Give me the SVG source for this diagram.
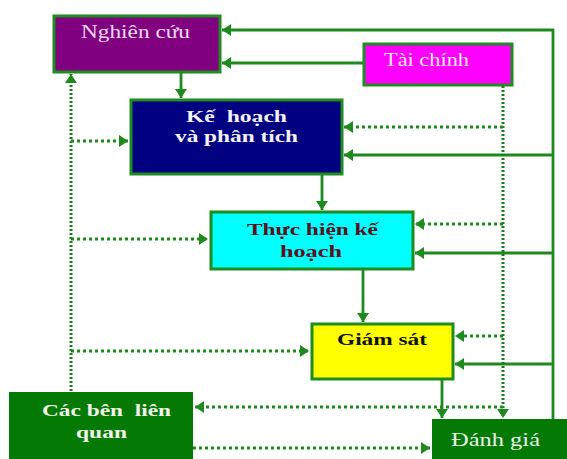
<svg xmlns="http://www.w3.org/2000/svg" width="567" height="459" viewBox="0 0 567 459">
<style>
.box{stroke:#1e8c1e;stroke-width:3}
.ln{fill:none;stroke:#1e8a1e;stroke-width:2.8}
.dv{fill:none;stroke:#1e7a1e;stroke-width:3;stroke-dasharray:2 2}
.dh{fill:none;stroke:#1e8a1e;stroke-width:3;stroke-dasharray:3 3}
.t{font-family:"Liberation Serif","Times New Roman",serif;font-size:18px;white-space:pre}
.b{font-weight:bold;font-size:17px}
</style>
<defs>
<marker id="ah" viewBox="0 0 9 12" refX="9" refY="6" markerWidth="9" markerHeight="12" markerUnits="userSpaceOnUse" orient="auto">
<path d="M0,0 L9,6 L0,12 z" fill="#1e8a1e"/>
</marker>
</defs>
<rect width="567" height="459" fill="#ffffff"/>
<g id="connectors">
<path class="ln" d="M181,73 V98" marker-end="url(#ah)"/>
<path class="ln" d="M322,175 V210" marker-end="url(#ah)"/>
<path class="ln" d="M363,270 V322" marker-end="url(#ah)"/>
<path class="ln" d="M442,380 V418" marker-end="url(#ah)"/>
<path class="ln" d="M553,419 V30 H222" marker-end="url(#ah)"/>
<path class="ln" d="M553,155 H344" marker-end="url(#ah)"/>
<path class="ln" d="M553,253 H415" marker-end="url(#ah)"/>
<path class="ln" d="M553,364 H455" marker-end="url(#ah)"/>
<path class="ln" d="M363,63 H222" marker-end="url(#ah)"/>
<path class="dv" d="M503,86 V418" marker-end="url(#ah)"/>
<path class="dh" d="M503,127 H344" marker-end="url(#ah)"/>
<path class="dh" d="M503,224 H415" marker-end="url(#ah)"/>
<path class="dh" d="M503,336 H455" marker-end="url(#ah)"/>
<path class="dh" d="M503,407 H195" marker-end="url(#ah)"/>
<path class="dv" d="M71,391 V74" marker-end="url(#ah)"/>
<path class="dh" d="M71,141 H128" marker-end="url(#ah)"/>
<path class="dh" d="M71,239 H208" marker-end="url(#ah)"/>
<path class="dh" d="M71,351 H309" marker-end="url(#ah)"/>
<path class="dh" d="M193,448 H430" marker-end="url(#ah)"/>
</g>
<g id="nghien-cuu">
<rect class="box" x="54" y="16" width="166" height="56" fill="#800080"/>
<text class="t" x="81" y="38" fill="#f4dcf4" textLength="109" lengthAdjust="spacingAndGlyphs">Nghiên cứu</text>
</g>
<g id="tai-chinh">
<rect class="box" x="364" y="44" width="148" height="41" fill="#ff00ff"/>
<text class="t" x="384" y="66" fill="#fde8fd" textLength="85" lengthAdjust="spacingAndGlyphs">Tài chính</text>
</g>
<g id="ke-hoach">
<rect class="box" x="131" y="100" width="211" height="74" fill="#000080"/>
<text class="t b" x="186" y="122" fill="#f2f2f8" textLength="101" lengthAdjust="spacingAndGlyphs">Kế  hoạch</text>
<text class="t b" x="175" y="142" fill="#f2f2f8" textLength="123" lengthAdjust="spacingAndGlyphs">và phân tích</text>
</g>
<g id="thuc-hien">
<rect class="box" x="211" y="212" width="202" height="57" fill="#00ffff"/>
<text class="t b" x="247" y="235" fill="#5a1020" textLength="131" lengthAdjust="spacingAndGlyphs">Thực hiện kế</text>
<text class="t b" x="280" y="257" fill="#5a1020" textLength="62" lengthAdjust="spacingAndGlyphs">hoạch</text>
</g>
<g id="giam-sat">
<rect class="box" x="312" y="324" width="141" height="55" fill="#ffff00"/>
<text class="t b" x="337" y="345" fill="#111111" textLength="90" lengthAdjust="spacingAndGlyphs">Giám sát</text>
</g>
<g id="cac-ben-lien-quan">
<rect x="9" y="392" width="184" height="80" fill="#047a04"/>
<text class="t b" x="42" y="416" fill="#f2f2ea" textLength="129" lengthAdjust="spacingAndGlyphs">Các bên  liên</text>
<text class="t b" x="76" y="438" fill="#f2f2ea" textLength="51" lengthAdjust="spacingAndGlyphs">quan</text>
</g>
<g id="danh-gia">
<rect x="432" y="419" width="150" height="60" fill="#047a04"/>
<text class="t" x="451" y="446" fill="#e8f2e8" textLength="89" lengthAdjust="spacingAndGlyphs">Đánh giá</text>
</g>
</svg>
